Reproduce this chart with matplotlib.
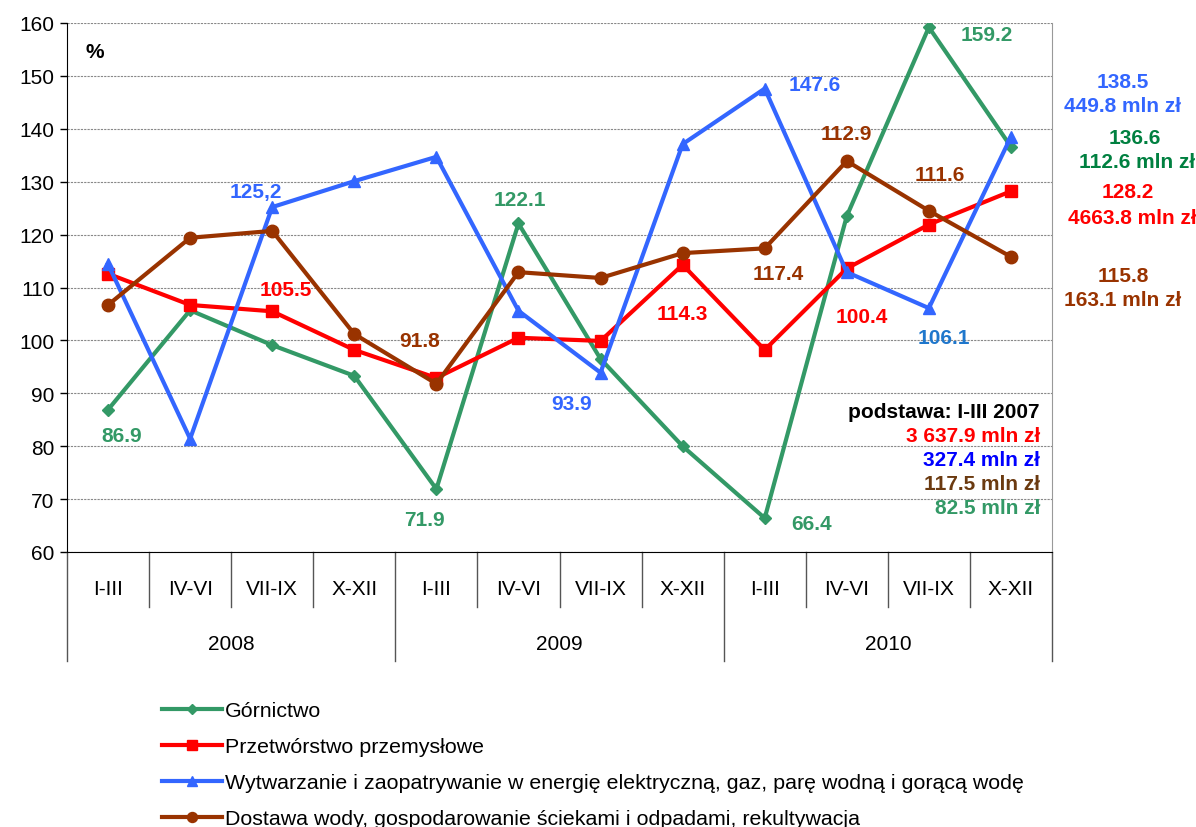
import matplotlib
matplotlib.use("Agg")
import matplotlib.pyplot as plt
from matplotlib.lines import Line2D
import matplotlib.transforms as mtransforms

plt.rcParams['font.family'] = ['Liberation Sans', 'DejaVu Sans']

quarters = ["I-III", "IV-VI", "VII-IX", "X-XII"] * 3
years = ["2008", "2009", "2010"]

gornictwo = [86.9, 105.7, 99.1, 93.3, 71.9, 122.1, 96.5, 80.0, 66.4, 123.5, 159.2, 136.6]
przetworstwo = [112.6, 106.7, 105.5, 98.2, 92.9, 100.5, 99.9, 114.3, 98.2, 113.6, 121.9, 128.2]
wytwarzanie = [114.4, 81.4, 125.2, 130.1, 134.7, 105.6, 93.9, 137.1, 147.6, 112.9, 106.1, 138.5]
dostawa = [106.7, 119.4, 120.7, 101.2, 91.8, 112.9, 111.8, 116.5, 117.4, 133.9, 124.5, 115.8]

series_names = [
    "Górnictwo",
    "Przetwórstwo przemysłowe",
    "Wytwarzanie i zaopatrywanie w energię elektryczną, gaz, parę wodną i gorącą wodę",
    "Dostawa wody, gospodarowanie ściekami i odpadami, rekultywacja",
]

GREEN = "#339966"
RED = "#FF0000"
BLUE = "#3366FF"
BROWN = "#993300"

# data labels: text, colour, x position (category index), y position (value scale)
data_labels = [
    ("86.9", GREEN, 0.17, 82.1),
    ("105.5", RED, 2.17, 109.7),
    ("125,2", BLUE, 1.80, 128.1),
    ("91.8", BROWN, 3.80, 99.9),
    ("122.1", GREEN, 5.02, 126.7),
    ("71.9", GREEN, 3.85, 66.2),
    ("93.9", BLUE, 5.65, 88.0),
    ("114.3", RED, 7.0, 105.0),
    ("117.4", BROWN, 8.16, 112.6),
    ("147.6", BLUE, 8.61, 148.3),
    ("112.9", BROWN, 9.0, 139.2),
    ("111.6", BROWN, 10.13, 131.3),
    ("159.2", GREEN, 10.70, 157.9),
    ("100.4", RED, 9.18, 104.6),
    ("106.1", "#1F77CC", 10.18, 100.6),
    ("66.4", GREEN, 8.57, 65.3),
]

W, H = 1196, 828
fig = plt.figure(figsize=(W / 100, H / 100), dpi=100)
L, R, T, B = 67, 1052, 24, 553
ax = fig.add_axes([L / W, 1 - B / H, (R - L) / W, (B - T) / H])

FS = 15
x = list(range(len(quarters)))
lw = 3.0
ax.plot(x, gornictwo, color=GREEN, lw=lw, marker="D", ms=6, label=series_names[0], zorder=3)
ax.plot(x, przetworstwo, color=RED, lw=lw, marker="s", ms=9, label=series_names[1], zorder=3)
ax.plot(x, wytwarzanie, color=BLUE, lw=lw, marker="^", ms=9, label=series_names[2], zorder=3)
ax.plot(x, dostawa, color=BROWN, lw=lw, marker="o", ms=9, label=series_names[3], zorder=3)

ax.set_xlim(-0.5, 11.5)
ax.set_ylim(60, 160)
ax.set_yticks(range(60, 161, 10))
ax.tick_params(axis="y", labelsize=FS, length=5, width=1, direction="out", pad=4)
ax.set_xticks([])
ax.grid(axis="y", color="#888888", linestyle=(0, (2, 1)), linewidth=0.8)
ax.set_axisbelow(True)
ax.spines["top"].set_visible(False)
ax.spines["right"].set_color("#999999")
ax.spines["left"].set_color("black")
ax.spines["bottom"].set_color("black")

for txt, col, xx, yy in data_labels:
    ax.text(xx, yy, txt, color=col, fontsize=FS, fontweight="bold", ha="center", va="center")

fig.text(95 / W, 1 - 52 / H, "%", fontsize=FS, fontweight="bold", ha="center", va="center")

# category axis
trans = mtransforms.blended_transform_factory(ax.transData, ax.transAxes)
row1 = -(590 - B) / (B - T)
row2 = -(645 - B) / (B - T)
short_end = -(608 - B) / (B - T)
long_end = -(662 - B) / (B - T)
for i, q in enumerate(quarters):
    ax.text(i, row1, q, transform=trans, ha="center", va="center", fontsize=FS)
for j, yr in enumerate(years):
    ax.text(4 * j + 1.5, row2, yr, transform=trans, ha="center", va="center", fontsize=FS)
for k in range(13):
    xb = k - 0.5
    end = long_end if k % 4 == 0 else short_end
    ax.add_line(Line2D([xb, xb], [0, end], transform=trans, color="#555555",
                       lw=1, clip_on=False))

# right side annotations
right_notes = [
    ("138.5", BLUE, 1123, 82),
    ("449.8 mln zł", BLUE, 1123, 106),
    ("136.6", "#008040", 1135, 138),
    ("112.6 mln zł", "#008040", 1137, 163),
    ("128.2", RED, 1128, 193),
    ("4663.8 mln zł", RED, 1132, 218),
    ("115.8", BROWN, 1123, 277),
    ("163.1 mln zł", BROWN, 1123, 301),
]
for txt, col, px, py in right_notes:
    fig.text(px / W, 1 - py / H, txt, color=col, fontsize=FS, fontweight="bold", ha="center", va="center")

base_notes = [
    ("podstawa: I-III 2007", "black", 413),
    ("3 637.9 mln zł", RED, 437),
    ("327.4 mln zł", "#0000FF", 461),
    ("117.5 mln zł", "#6B3A10", 485),
    ("82.5 mln zł", GREEN, 509),
]
for txt, col, py in base_notes:
    fig.text(1040 / W, 1 - py / H, txt, color=col, fontsize=FS, fontweight="bold", ha="right", va="center")

leg = fig.legend(loc="upper left", bbox_to_anchor=(162 / W, 1 - 702 / H), frameon=False,
                 fontsize=15.4, handlelength=2.8, handletextpad=0.15, labelspacing=0.8,
                 borderaxespad=0, borderpad=0, markerscale=0.8)

fig.savefig("out.png", dpi=100)
